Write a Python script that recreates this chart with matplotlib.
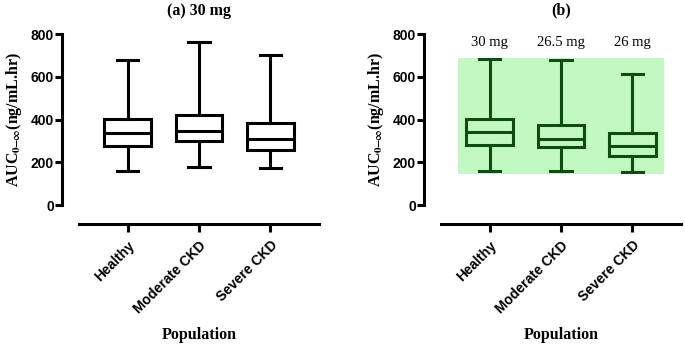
import matplotlib
matplotlib.use("Agg")
import matplotlib.pyplot as plt
from matplotlib.patches import Rectangle

categories = ["Healthy", "Moderate CKD", "Severe CKD"]

# panel (a): 30 mg for all
a_whislo = [158, 177, 174]
a_q1 = [275, 301, 259]
a_med = [337, 348, 309]
a_q3 = [404, 422, 384]
a_whishi = [679, 764, 702]

# panel (b): adjusted doses
b_whislo = [161, 161, 155]
b_q1 = [280, 270, 231]
b_med = [342, 309, 275]
b_q3 = [404, 376, 337]
b_whishi = [682, 679, 613]
b_doses = ["30 mg", "26.5 mg", "26 mg"]

# target range band (panel b)
band_low, band_high = 145, 688

yticks = [0, 200, 400, 600, 800]

plt.rcParams["mathtext.fontset"] = "stix"

SANS = "Liberation Sans"
SERIF = "Liberation Serif"
LW = 2.2

fig = plt.figure(figsize=(6.85, 3.49), dpi=100)
axA = fig.add_axes([79 / 685, 1 - 205 / 349, 240 / 685, 171 / 349])
axB = fig.add_axes([441 / 685, 1 - 205 / 349, 240 / 685, 171 / 349])


def stats(lo, q1, med, q3, hi):
    return [dict(whislo=lo[i], q1=q1[i], med=med[i], q3=q3[i], whishi=hi[i],
                 fliers=[], label=categories[i]) for i in range(len(lo))]


def style(ax, title, color):
    ax.set_xlim(-0.68, 2.68)
    ax.set_ylim(0, 800)
    for s in ["top", "right"]:
        ax.spines[s].set_visible(False)
    ax.spines["left"].set_position(("outward", 12))
    ax.spines["bottom"].set_position(("outward", 14))
    ax.spines["left"].set_bounds(0, 800)
    for s in ["left", "bottom"]:
        ax.spines[s].set_linewidth(LW)
    ax.set_yticks(yticks)
    ax.set_xticks(range(len(categories)))
    ax.tick_params(axis="y", direction="out", length=5, width=LW, pad=1)
    ax.tick_params(axis="x", direction="out", length=6, width=LW, pad=4)
    ax.set_yticklabels([str(v) for v in yticks], fontfamily=SANS,
                       fontweight="bold", fontsize=10)
    ax.set_xticklabels(categories, rotation=45, ha="right",
                       rotation_mode="anchor", fontfamily=SANS,
                       fontweight="bold", fontsize=10)
    ax.set_ylabel(r"AUC$_{\mathbf{0}\!\mathbf{-}\!\mathbf{\infty}}$(ng/mL.hr)",
                  fontfamily=SERIF, fontweight="bold", fontsize=11.5,
                  labelpad=5)
    ax.set_xlabel("Population", fontfamily=SERIF, fontweight="bold",
                  fontsize=11.5, labelpad=8)
    ax.set_title(title, fontfamily=SERIF, fontweight="bold", fontsize=11.5,
                 pad=14)


def draw(ax, st, color):
    lp = dict(color=color, linewidth=LW)
    ax.bxp(st, positions=range(len(st)), widths=0.65, capwidths=0.3,
           showfliers=False, patch_artist=True,
           boxprops=dict(facecolor="none", edgecolor=color, linewidth=LW),
           whiskerprops=lp, capprops=lp, medianprops=lp, manage_ticks=False)


draw(axA, stats(a_whislo, a_q1, a_med, a_q3, a_whishi), "black")
style(axA, "(a) 30 mg", "black")

axB.add_patch(Rectangle((-0.44, band_low), 2.88, band_high - band_low,
                        facecolor="#c2f8c2", edgecolor="none", zorder=0))
draw(axB, stats(b_whislo, b_q1, b_med, b_q3, b_whishi), "#0d4d0d")
style(axB, "(b)", "#0d4d0d")
for i, d in enumerate(b_doses):
    axB.text(i, 762, d, ha="center", va="center", fontfamily=SERIF,
             fontsize=10.5)

fig.savefig("out.png", dpi=100)
